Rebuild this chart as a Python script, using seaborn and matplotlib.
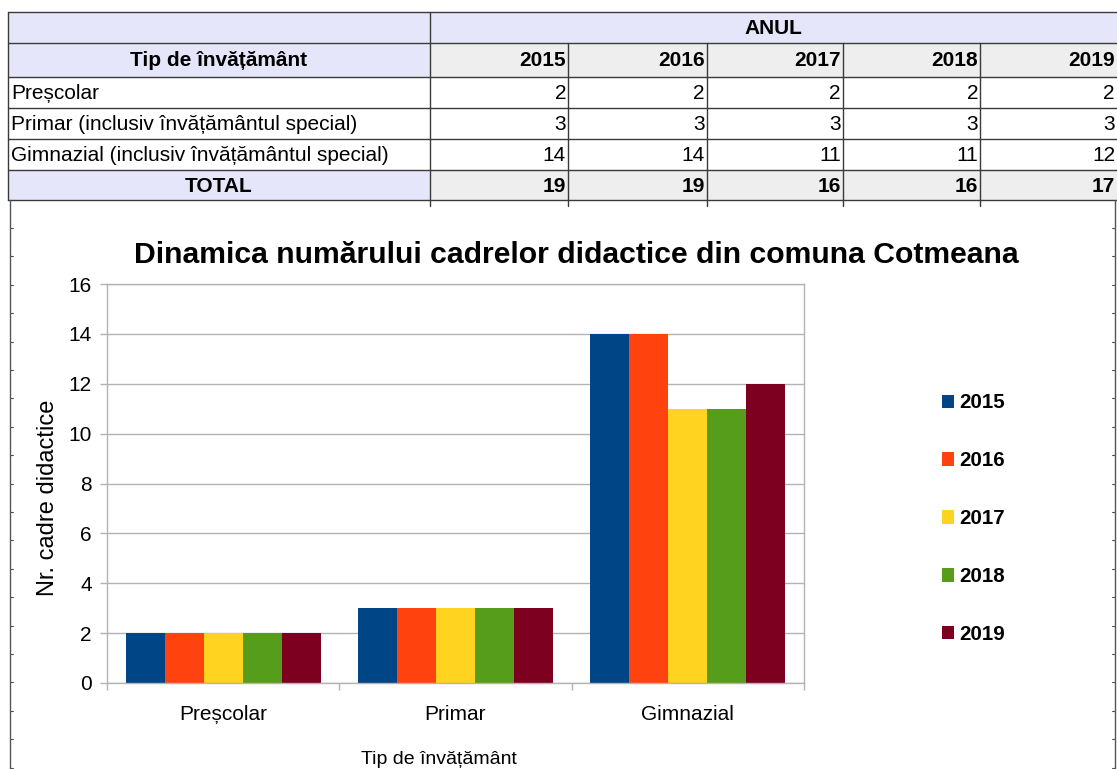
import matplotlib
matplotlib.use("Agg")
import matplotlib.pyplot as plt
import seaborn as sns
import pandas as pd
from matplotlib.patches import Rectangle

# ---- data ----
categories = ["Preșcolar", "Primar", "Gimnazial"]
table_rows = ["Preșcolar", "Primar (inclusiv învățământul special)",
              "Gimnazial (inclusiv învățământul special)"]
years = ["2015", "2016", "2017", "2018", "2019"]
v2015 = [2, 3, 14]
v2016 = [2, 3, 14]
v2017 = [2, 3, 11]
v2018 = [2, 3, 11]
v2019 = [2, 3, 12]
totals = [19, 19, 16, 16, 17]
colors = ["#004586", "#ff420e", "#ffd320", "#579d1c", "#7e0021"]
title = "Dinamica numărului cadrelor didactice din comuna Cotmeana"
xlabel = "Tip de învățământ"
ylabel = "Nr. cadre didactice"
table_head = "Tip de învățământ"
table_top = "ANUL"
total_label = "TOTAL"

series = [v2015, v2016, v2017, v2018, v2019]
rows = []
for y, vals in zip(years, series):
    for c, v in zip(categories, vals):
        rows.append({"cat": c, "year": y, "val": v})
df = pd.DataFrame(rows)

sns.set_theme(style="white")
plt.rcParams["font.family"] = ["Liberation Sans", "DejaVu Sans"]
for k in ["text.color", "axes.labelcolor", "xtick.labelcolor", "ytick.labelcolor"]:
    plt.rcParams[k] = "black"

W, H = 1117, 769
fig = plt.figure(figsize=(W / 100, H / 100), dpi=100)
fig.patch.set_facecolor("white")

# background pixel-coordinate axes for table / frame
bg = fig.add_axes([0, 0, 1, 1], zorder=0)
bg.set_xlim(0, W)
bg.set_ylim(H, 0)
bg.axis("off")

# ---- table ----
col_x = [8, 430, 568, 707, 843, 980, 1117]
row_y = [12, 43, 77, 108, 139, 170, 200]
lav = "#e6e6fa"
gray = "#eeeeee"
lc = "#3a3a3a"
fs_t = 15

# fills
bg.add_patch(Rectangle((col_x[0], row_y[0]), col_x[-1] - col_x[0], row_y[1] - row_y[0], color=lav, lw=0))
bg.add_patch(Rectangle((col_x[0], row_y[1]), col_x[1] - col_x[0], row_y[2] - row_y[1], color=lav, lw=0))
bg.add_patch(Rectangle((col_x[1], row_y[1]), col_x[-1] - col_x[1], row_y[2] - row_y[1], color=gray, lw=0))
bg.add_patch(Rectangle((col_x[0], row_y[5]), col_x[1] - col_x[0], row_y[6] - row_y[5], color=lav, lw=0))
bg.add_patch(Rectangle((col_x[1], row_y[5]), col_x[-1] - col_x[1], row_y[6] - row_y[5], color=gray, lw=0))

# horizontal lines
for yy in row_y:
    bg.plot([col_x[0], col_x[-1]], [yy, yy], color=lc, lw=1)
# vertical lines
bg.plot([col_x[0], col_x[0]], [row_y[0], row_y[-1]], color=lc, lw=1)
bg.plot([col_x[1], col_x[1]], [row_y[0], row_y[-1] + 6], color=lc, lw=1)
for xx in col_x[2:-1]:
    bg.plot([xx, xx], [row_y[1], row_y[-1] + 6], color=lc, lw=1)

def mid(a, b):
    return (a + b) / 2

bg.text(mid(col_x[1], col_x[-1]), mid(row_y[0], row_y[1]) + 1, table_top,
        ha="center", va="center", fontsize=fs_t, fontweight="bold")
bg.text(mid(col_x[0], col_x[1]), mid(row_y[1], row_y[2]) + 1, table_head,
        ha="center", va="center", fontsize=fs_t, fontweight="bold")
for j, y in enumerate(years):
    bg.text(col_x[j + 2] - 2, mid(row_y[1], row_y[2]) + 1, y,
            ha="right", va="center", fontsize=fs_t, fontweight="bold")
for i, lab in enumerate(table_rows):
    yc = mid(row_y[i + 2], row_y[i + 3]) + 1
    bg.text(col_x[0] + 3, yc, lab, ha="left", va="center", fontsize=fs_t)
    for j, vals in enumerate(series):
        bg.text(col_x[j + 2] - 2, yc, str(vals[i]), ha="right", va="center", fontsize=fs_t)
bg.text(mid(col_x[0], col_x[1]), mid(row_y[5], row_y[6]) + 1, total_label,
        ha="center", va="center", fontsize=fs_t, fontweight="bold")
for j, t in enumerate(totals):
    bg.text(col_x[j + 2] - 2, mid(row_y[5], row_y[6]) + 1, str(t),
            ha="right", va="center", fontsize=fs_t, fontweight="bold")

# sheet frame lines with small ticks
fc = "#555555"
bg.plot([10, 10], [200, H], color=fc, lw=1)
bg.plot([1115, 1115], [200, H], color=fc, lw=1)
yt = 228
while yt < H:
    bg.plot([10, 13], [yt, yt], color=fc, lw=0.8)
    bg.plot([1112, 1115], [yt, yt], color=fc, lw=0.8)
    yt += 28.4

# title
bg.text(576, 255, title, ha="center", va="center", fontsize=21.7, fontweight="bold")

# ---- chart ----
x0, x1, ytop, ybot = 107, 804, 284, 683
ax = fig.add_axes([x0 / W, (H - ybot) / H, (x1 - x0) / W, (ybot - ytop) / H], zorder=2)
sns.barplot(data=df, x="cat", y="val", hue="year", palette=colors, width=0.84,
            saturation=1, ax=ax, legend=True, edgecolor="none", linewidth=0)
ax.set_ylim(0, 16)
ax.set_xlim(-0.5, 2.5)
ax.set_yticks(range(0, 17, 2))
ax.grid(axis="y", color="#b3b3b3", lw=1)
ax.set_axisbelow(True)
for s in ax.spines.values():
    s.set_color("#b3b3b3")
    s.set_linewidth(1)
    s.set_visible(True)
ax.tick_params(axis="y", length=5, width=1, color="#b3b3b3", pad=6, labelsize=15, left=True)
ax.set_xticks([-0.5, 0.5, 1.5, 2.5], minor=True)
ax.tick_params(axis="x", which="minor", length=5, width=1, color="#b3b3b3", bottom=True)
ax.tick_params(axis="x", which="major", length=0, pad=16, labelsize=15)
ax.set_xlabel(xlabel, fontsize=14, labelpad=19)
ax.set_ylabel(ylabel, fontsize=17, labelpad=6.5)
ax.xaxis.label.set_x(0.476)
ax.yaxis.label.set_y(0.464)

handles, labels = ax.get_legend_handles_labels()
ax.get_legend().remove()
fig.legend(handles, labels, loc="upper left", bbox_to_anchor=(923 / W, 1 - 375 / H),
           frameon=False, prop={"weight": "bold", "size": 14.8},
           handlelength=0.63, handleheight=0.63, handletextpad=0.25, labelspacing=1.89)

fig.savefig("out.png", dpi=100)
